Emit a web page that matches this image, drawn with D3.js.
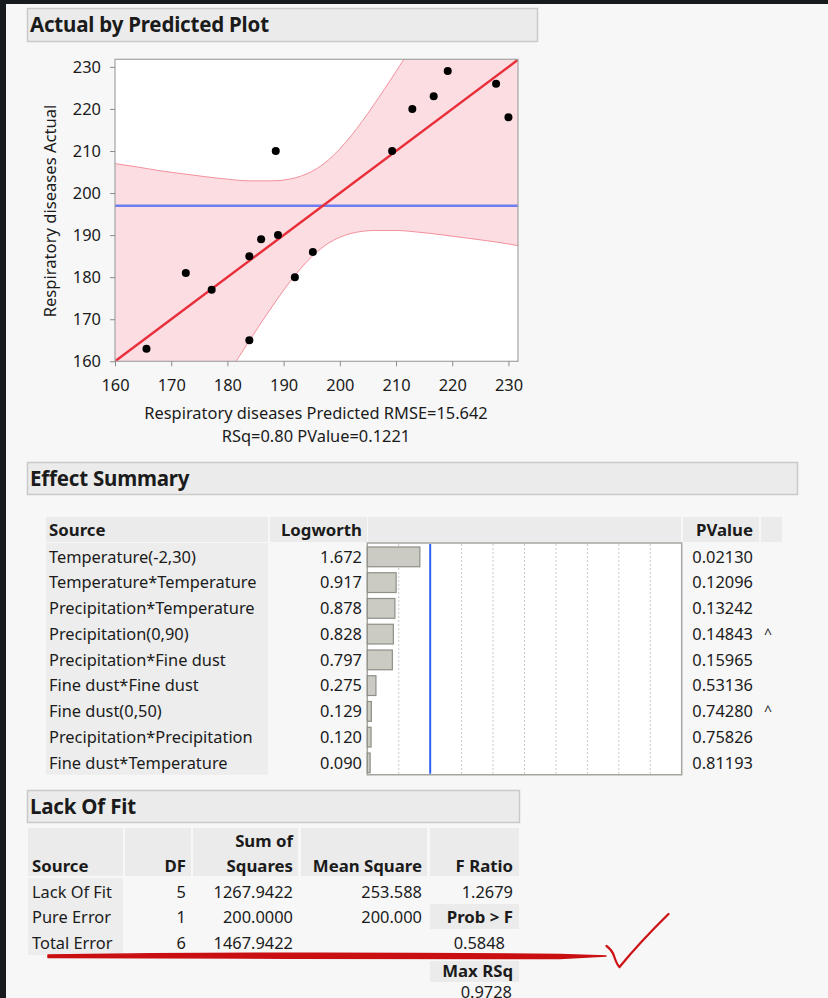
<!DOCTYPE html>
<html>
<head>
<meta charset="utf-8">
<script src="https://cdn.jsdelivr.net/npm/d3@7"></script>
<style>
  body { margin: 0; background: #f7f7f7; }
  svg { display: block; }
  text { font-family: "Noto Sans", "Open Sans", sans-serif; fill: #1b1b1b; }
</style>
</head>
<body>
<svg id="report" width="828" height="998"></svg>
<script>
// ---- Actual by Predicted data ----
const predicted = [165.6, 172.6, 177.2, 183.9, 183.9, 186.0, 188.6, 189.0, 192.0, 195.2, 209.3, 212.9, 216.7, 219.2, 227.8, 230.0];
const actual    = [163,   181,   177,   185,   165,   189,   210,   190,   180,   186,   210,   220,   223,   229,   226,   218];
const actualMean = 197.0;
const axisTicks = [160, 170, 180, 190, 200, 210, 220, 230];

// confidence band around the fit line
const bandX     = [160, 164, 168, 172, 176, 180, 184, 188, 190, 192, 194, 196, 198, 200, 202, 204, 206, 210, 214, 218, 222, 226, 230, 231.7];
const bandUpper = [207.0, 206.2, 205.3, 204.6, 203.9, 203.3, 202.9, 202.9, 203.1, 203.6, 204.5, 205.9, 207.9, 210.5, 213.6, 217.1, 220.9, 228.9, 237.3, 245.9, 254.6, 263.3, 272.2, 275.9];
const bandLower = [113.0, 121.9, 130.7, 139.4, 148.1, 156.7, 165.1, 173.1, 176.9, 180.4, 183.5, 186.1, 188.1, 189.5, 190.4, 190.9, 191.1, 191.1, 190.7, 190.1, 189.4, 188.7, 187.9, 187.5];

const xTitle = "Respiratory diseases Predicted RMSE=15.642";
const xSubtitle = "RSq=0.80 PValue=0.1221";
const yTitle = "Respiratory diseases Actual";

// ---- Effect Summary data ----
const effectSources = ["Temperature(-2,30)", "Temperature*Temperature", "Precipitation*Temperature", "Precipitation(0,90)", "Precipitation*Fine dust", "Fine dust*Fine dust", "Fine dust(0,50)", "Precipitation*Precipitation", "Fine dust*Temperature"];
const logworth = [1.672, 0.917, 0.878, 0.828, 0.797, 0.275, 0.129, 0.120, 0.090];
const pValues = ["0.02130", "0.12096", "0.13242", "0.14843", "0.15965", "0.53136", "0.74280", "0.75826", "0.81193"];
const containment = ["", "", "", "^", "", "", "^", "", ""];
const logworthGrid = [1, 3, 4, 5, 6, 7, 8, 9];
const logworthRef = 2;

// ---- Lack Of Fit data ----
const lofSources = ["Lack Of Fit", "Pure Error", "Total Error"];
const lofDF = ["5", "1", "6"];
const lofSS = ["1267.9422", "200.0000", "1467.9422"];
const lofMS = ["253.588", "200.000", ""];
const fRatio = "1.2679";
const probF = "0.5848";
const maxRSq = "0.9728";

const FS = 16.4;      // body text size
const FB = 16.8;      // bold column heading size
const FT = 20.5;      // outline title size

const svg = d3.select("#report");

// window chrome strips
svg.append("rect").attr("x", 0).attr("y", 0).attr("width", 828).attr("height", 4).attr("fill", "#181b1e");
svg.append("rect").attr("x", 0).attr("y", 0).attr("width", 6).attr("height", 998).attr("fill", "#181b1e");

function outlineHeader(x, y, w, h, label) {
  svg.append("rect").attr("x", x + 0.5).attr("y", y + 0.5).attr("width", w).attr("height", h)
    .attr("fill", "#ebebeb").attr("stroke", "#c9c9c9").attr("stroke-width", 1.5);
  svg.append("text").attr("x", x + 3).attr("y", y + h / 2 + 0.5).attr("dy", "0.35em")
    .attr("font-size", FT).attr("font-weight", "bold").attr("fill", "#111")
    .attr("letter-spacing", "-0.2px").text(label);
}

// ================= Actual by Predicted Plot =================
outlineHeader(27, 8, 510, 33, "Actual by Predicted Plot");

const px = d3.scaleLinear().domain([160, 231.7]).range([115, 518]);
const py = d3.scaleLinear().domain([160, 231.8]).range([361.3, 59.3]);

svg.append("rect").attr("x", px.range()[0]).attr("y", py.range()[1])
  .attr("width", px.range()[1] - px.range()[0]).attr("height", py.range()[0] - py.range()[1])
  .attr("fill", "#fff");

svg.append("clipPath").attr("id", "plotClip").append("rect")
  .attr("x", px.range()[0]).attr("y", py.range()[1])
  .attr("width", px.range()[1] - px.range()[0]).attr("height", py.range()[0] - py.range()[1]);

const plot = svg.append("g").attr("clip-path", "url(#plotClip)");
const band = bandX.map((x, i) => ({ x, lo: bandLower[i], hi: bandUpper[i] }));

plot.append("path").datum(band)
  .attr("fill", "#fcdde2")
  .attr("d", d3.area().x(d => px(d.x)).y0(d => py(d.lo)).y1(d => py(d.hi)).curve(d3.curveMonotoneX));
["lo", "hi"].forEach(k => {
  plot.append("path").datum(band).attr("fill", "none").attr("stroke", "#f3909c").attr("stroke-width", 1)
    .attr("d", d3.line().x(d => px(d.x)).y(d => py(d[k])).curve(d3.curveMonotoneX));
});

plot.append("line").attr("x1", px(160)).attr("x2", px(231.7)).attr("y1", py(actualMean)).attr("y2", py(actualMean))
  .attr("stroke", "#6c7ef0").attr("stroke-width", 2.5);
plot.append("line").attr("x1", px(160)).attr("x2", px(231.7)).attr("y1", py(160)).attr("y2", py(231.7))
  .attr("stroke", "#e8303c").attr("stroke-width", 2.5);

plot.selectAll("circle.pt").data(predicted).enter().append("circle").attr("class", "pt")
  .attr("cx", d => px(d)).attr("cy", (d, i) => py(actual[i])).attr("r", 4).attr("fill", "#000");

// frame
svg.append("rect").attr("x", px.range()[0]).attr("y", py.range()[1])
  .attr("width", px.range()[1] - px.range()[0]).attr("height", py.range()[0] - py.range()[1])
  .attr("fill", "none").attr("stroke", "#a3a3a3").attr("stroke-width", 1.2);

const xAxis = svg.append("g").attr("transform", `translate(0,${py.range()[0]})`)
  .call(d3.axisBottom(px).tickValues(axisTicks).tickSize(5).tickPadding(13).tickSizeOuter(0));
const yAxis = svg.append("g").attr("transform", `translate(${px.range()[0]},0)`)
  .call(d3.axisLeft(py).tickValues(axisTicks).tickSize(5).tickPadding(9).tickSizeOuter(0));
[xAxis, yAxis].forEach(a => {
  a.select(".domain").remove();
  a.selectAll(".tick line").attr("stroke", "#8c8c8c");
  a.selectAll(".tick text").attr("font-size", FS).attr("font-family", "Noto Sans").attr("fill", "#1f1f1f");
});

svg.append("text").attr("x", 316).attr("y", 413).attr("dy", "0.35em").attr("text-anchor", "middle")
  .attr("font-size", FS).text(xTitle);
svg.append("text").attr("x", 316).attr("y", 436).attr("dy", "0.35em").attr("text-anchor", "middle")
  .attr("font-size", FS).text(xSubtitle);
svg.append("text").attr("transform", "translate(50,211) rotate(-90)").attr("dy", "0.35em")
  .attr("text-anchor", "middle").attr("font-size", 16.6).text(yTitle);

// ================= Effect Summary =================
outlineHeader(27, 462, 770, 32, "Effect Summary");

const rowTop = 543;
const rowH = 25.75;
const ry = d3.scaleBand().domain(d3.range(effectSources.length)).range([rowTop, rowTop + rowH * effectSources.length]);

// column heading cells
[[46, 222], [270, 97], [368, 313], [683, 76], [761, 21]].forEach(([x, w]) => {
  svg.append("rect").attr("x", x).attr("y", 517).attr("width", w).attr("height", 25).attr("fill", "#ebebeb");
});
svg.append("rect").attr("x", 46).attr("y", rowTop).attr("width", 222).attr("height", rowH * effectSources.length).attr("fill", "#ededed");

const headY = 530;
svg.append("text").attr("x", 49).attr("y", headY).attr("dy", "0.35em").attr("font-size", FB).attr("font-weight", "bold").text("Source");
svg.append("text").attr("x", 362).attr("y", headY).attr("dy", "0.35em").attr("text-anchor", "end").attr("font-size", FB).attr("font-weight", "bold").text("Logworth");
svg.append("text").attr("x", 753).attr("y", headY).attr("dy", "0.35em").attr("text-anchor", "end").attr("font-size", FB).attr("font-weight", "bold").text("PValue");

const lw = d3.scaleLinear().domain([0, 10]).range([367.3, 681.7]);
svg.append("rect").attr("x", lw(0)).attr("y", rowTop).attr("width", lw(10) - lw(0)).attr("height", rowH * effectSources.length)
  .attr("fill", "#fff").attr("stroke", "#a5a5a0").attr("stroke-width", 1.5);
svg.selectAll("line.lwgrid").data(logworthGrid).enter().append("line").attr("class", "lwgrid")
  .attr("x1", d => lw(d)).attr("x2", d => lw(d)).attr("y1", rowTop + 1).attr("y2", rowTop + rowH * effectSources.length - 1)
  .attr("stroke", "#c8c8c8").attr("stroke-dasharray", "2,2");
svg.selectAll("rect.lwbar").data(logworth).enter().append("rect").attr("class", "lwbar")
  .attr("x", lw(0)).attr("y", (d, i) => ry(i) + 4).attr("width", d => lw(d) - lw(0)).attr("height", rowH - 6)
  .attr("fill", "#cbcbc4").attr("stroke", "#8f8f88").attr("stroke-width", 1.2);
svg.append("line").attr("x1", lw(logworthRef)).attr("x2", lw(logworthRef))
  .attr("y1", rowTop + 1).attr("y2", rowTop + rowH * effectSources.length - 1)
  .attr("stroke", "#2f62f0").attr("stroke-width", 2);

const rows = svg.selectAll("g.erow").data(effectSources).enter().append("g").attr("class", "erow")
  .attr("transform", (d, i) => `translate(0,${ry(i) + rowH / 2 + 1})`);
rows.append("text").attr("x", 49).attr("dy", "0.35em").attr("font-size", FS).text(d => d);
rows.append("text").attr("x", 362).attr("dy", "0.35em").attr("text-anchor", "end").attr("font-size", FS).text((d, i) => logworth[i].toFixed(3));
rows.append("text").attr("x", 753).attr("dy", "0.35em").attr("text-anchor", "end").attr("font-size", FS).text((d, i) => pValues[i]);
rows.append("text").attr("x", 764).attr("dy", "0.35em").attr("font-size", 14).text((d, i) => containment[i]);

// ================= Lack Of Fit =================
outlineHeader(27, 790, 492, 32, "Lack Of Fit");

const lofCols = [[28, 95], [125, 66], [193, 105], [301, 126], [430, 89]];
lofCols.forEach(([x, w]) => {
  svg.append("rect").attr("x", x).attr("y", 828).attr("width", w).attr("height", 48).attr("fill", "#ebebeb");
});
svg.append("rect").attr("x", 28).attr("y", 878).attr("width", 95).attr("height", 77).attr("fill", "#ededed");

function bold(x, y, t, anchor) {
  svg.append("text").attr("x", x).attr("y", y).attr("dy", "0.35em").attr("text-anchor", anchor || "end")
    .attr("font-size", FB).attr("font-weight", "bold").text(t);
}
bold(32, 866, "Source", "start");
bold(186, 866, "DF");
bold(293, 841, "Sum of");
bold(293, 866, "Squares");
bold(422, 866, "Mean Square");
bold(513, 866, "F Ratio");

const lofY = d3.scaleBand().domain(d3.range(lofSources.length)).range([879, 879 + 25.8 * 3]);
lofSources.forEach((s, i) => {
  const y = lofY(i) + 12.9;
  const g = svg.append("g").attr("transform", `translate(0,${y})`);
  g.append("text").attr("x", 32).attr("dy", "0.35em").attr("font-size", FS).text(s);
  g.append("text").attr("x", 186).attr("dy", "0.35em").attr("text-anchor", "end").attr("font-size", FS).text(lofDF[i]);
  g.append("text").attr("x", 293).attr("dy", "0.35em").attr("text-anchor", "end").attr("font-size", FS).text(lofSS[i]);
  g.append("text").attr("x", 422).attr("dy", "0.35em").attr("text-anchor", "end").attr("font-size", FS).text(lofMS[i]);
});
svg.append("text").attr("x", 513).attr("y", 892).attr("dy", "0.35em").attr("text-anchor", "end").attr("font-size", FS).text(fRatio);
svg.append("rect").attr("x", 430).attr("y", 904).attr("width", 89).attr("height", 25).attr("fill", "#ebebeb");
bold(513, 917, "Prob > F");
svg.append("text").attr("x", 505).attr("y", 943).attr("dy", "0.35em").attr("text-anchor", "end").attr("font-size", FS).text(probF);
svg.append("rect").attr("x", 430).attr("y", 961).attr("width", 89).attr("height", 21).attr("fill", "#ebebeb");
bold(513, 971, "Max RSq");
svg.append("text").attr("x", 512).attr("y", 992).attr("dy", "0.35em").attr("text-anchor", "end").attr("font-size", FS).text(maxRSq);

// hand-drawn red underline and tick mark
svg.append("path")
  .attr("d", "M48,955 C200,953 420,953 560,954.5 L606,956 L560,958.5 C420,958 200,958.5 48,957.5 Z")
  .attr("fill", "#c90f12").attr("stroke", "#c90f12").attr("stroke-width", 1.5).attr("stroke-linejoin", "round");
svg.append("path")
  .attr("d", "M606.5,946 Q612,950 614,956 Q617,965 619.5,967 Q640,942 668.5,914")
  .attr("fill", "none").attr("stroke", "#cc1316").attr("stroke-width", 2.3).attr("stroke-linecap", "round");
</script>
</body>
</html>
